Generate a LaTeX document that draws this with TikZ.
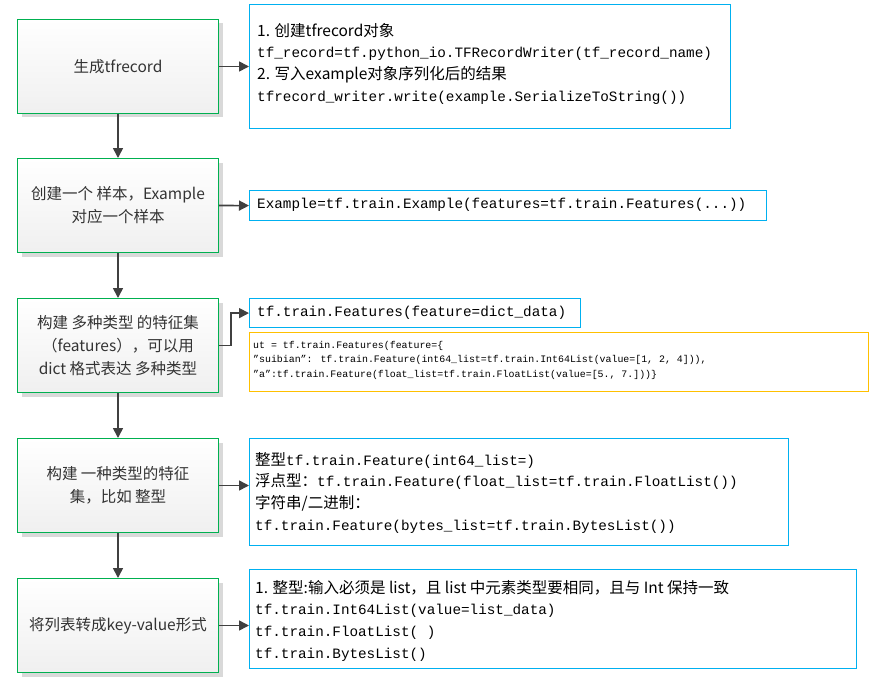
\documentclass[tikz,border=0pt]{standalone}
\usepackage{fontspec}
\setmainfont{Liberation Mono}
\newfontfamily\cjk{Noto Sans CJK SC}
\newcommand{\zh}[1]{{\cjk\fontsize{15.5}{21.7}\selectfont #1}}
\usetikzlibrary{shadows,arrows.meta}
\definecolor{gb}{HTML}{00B050}
\definecolor{bb}{HTML}{00B0F0}
\definecolor{ob}{HTML}{FFC000}
\definecolor{ar}{HTML}{404040}
\begin{document}
\begin{tikzpicture}[x=1pt,y=-1pt,
 lb/.style={draw=gb,line width=1pt,top color=white,bottom color=gray!12,minimum width=201pt,minimum height=94pt,anchor=north west,inner sep=0pt,align=center,font=\cjk\fontsize{15.5}{23}\selectfont,text=black!80,drop shadow={shadow xshift=4pt,shadow yshift=-4pt,fill=gray!30,opacity=1}},
 rb/.style={draw=bb,line width=1.2pt,anchor=north west,inner sep=0pt},
 tx/.style={anchor=north west,align=left,inner sep=0pt,font=\fontsize{14.3}{21.7}\selectfont},
 con/.style={draw=ar,line width=1.6pt,-{Triangle[length=10pt,width=10pt]}}]
\useasboundingbox (0,0) rectangle (877,682);
\node[lb] (L1) at (17,19) {生成tfrecord};
\node[lb] (L2) at (17,158) {创建一个 样本，Example\\对应一个样本};
\node[lb] (L3) at (17,298) {构建 多种类型 的特征集\\（features），可以用\\dict 格式表达 多种类型};
\node[lb] (L4) at (17,438) {构建 一种类型的特征\\集，比如 整型};
\node[lb] (L5) at (17,578) {将列表转成key-value形式};

\node[rb,minimum width=481pt,minimum height=124pt] (R1) at (249,4) {};
\node[tx] (T1) at (257,23) {\zh{1. 创建tfrecord对象}\\tf\_record=tf.python\_io.TFRecordWriter(tf\_record\_name)\\\zh{2. 写入example对象序列化后的结果}\\tfrecord\_writer.write(example.SerializeToString())};
\node[rb,minimum width=517pt,minimum height=30pt] (R2) at (249,190) {};
\node[tx,anchor=west] (T2) at (257,205) {Example=tf.train.Example(features=tf.train.Features(...))};
\node[rb,minimum width=331pt,minimum height=29pt] (R3) at (249,298) {};
\node[tx,anchor=west] (T3) at (257,313) {tf.train.Features(feature=dict\_data)};
\node[rb,draw=ob,minimum width=619pt,minimum height=59pt] (O3) at (249,332) {};
\node[tx,font=\fontsize{9.9}{14.5}\selectfont] (T3b) at (253,341) {ut = tf.train.Features(feature=\{\\"suibian": tf.train.Feature(int64\_list=tf.train.Int64List(value=[1, 2, 4])),\\"a":tf.train.Feature(float\_list=tf.train.FloatList(value=[5., 7.]))\}};
\node[rb,minimum width=539pt,minimum height=107pt] (R4) at (249,438) {};
\node[tx] (T4) at (255,452) {\zh{整型}tf.train.Feature(int64\_list=)\\\zh{浮点型：}tf.train.Feature(float\_list=tf.train.FloatList())\\\zh{字符串/二进制：}\\tf.train.Feature(bytes\_list=tf.train.BytesList())};
\node[rb,minimum width=607pt,minimum height=99pt] (R5) at (249,569) {};
\node[tx] (T5) at (255,580) {\zh{1. 整型:输入必须是 list，且 list 中元素类型要相同，且与 Int 保持一致}\\tf.train.Int64List(value=list\_data)\\tf.train.FloatList( )\\tf.train.BytesList()};

\draw[con] (L1.east) -- (R1.west|-L1.east);
\draw[con] (L2.east) -- (R2.west);
\draw[con] (L3.east) -- ++(12,0) |- (R3.west);
\draw[con] (L4.east) -- (R4.west|-L4.east);
\draw[con] (L5.east) -- (R5.west|-L5.east);
\foreach \a/\b in {L1/L2,L2/L3,L3/L4,L4/L5}
  \draw[con] (\a.south) -- (\b.north);
\end{tikzpicture}
\end{document}
